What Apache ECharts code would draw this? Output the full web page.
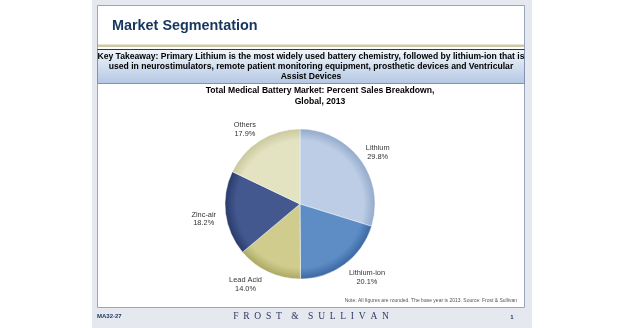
<!DOCTYPE html>
<html>
<head>
<meta charset="utf-8">
<script src="https://cdn.jsdelivr.net/npm/echarts@6/dist/echarts.min.js"></script>
<style>
html,body{margin:0;padding:0;background:#ffffff;}
#chart{width:620px;height:328px;}
</style>
</head>
<body>
<div id="chart"></div>
<script>
// ---- data ----
const categories = ['Lithium', 'Lithium-ion', 'Lead Acid', 'Zinc-air', 'Others'];
const shares = [29.8, 20.1, 14.0, 18.2, 17.9];
const slideTitle = 'Market Segmentation';
const takeawayLines = [
  'Key Takeaway: Primary Lithium is the most widely used battery chemistry, followed by lithium-ion that is',
  'used in neurostimulators, remote patient monitoring equipment, prosthetic devices and Ventricular',
  'Assist Devices'
];
const chartTitleLines = ['Total Medical Battery Market: Percent Sales Breakdown,', 'Global, 2013'];
const noteText = 'Note: All figures are rounded. The base year is 2013. Source: Frost & Sullivan';
const slideCode = 'MA32-27';
const pageNumber = '1';
const brandText = 'F  R  O  S  T    &    S  U  L  L  I  V  A  N';

// ---- styles ----
const SANS = "'Liberation Sans', Arial, sans-serif";
const SERIF = "'Liberation Serif', 'Times New Roman', serif";
const CX = 300, CY = 204, R = 75;
const sliceColors = [
  ['#bccde5', '#93aacb'],
  ['#5e8dc6', '#3b67a3'],
  ['#d0cc8e', '#aca861'],
  ['#42588f', '#2a3b6b'],
  ['#e3e2c1', '#cac89c']
];
// small label nudges (px) relative to the library's outside label placement
const labelNudge = [[2, 4], [11, -2], [-15, -5], [-3, 3], [-5, 5]];
function radial(c) {
  return {
    type: 'radial', x: CX, y: CY, r: R, global: true,
    colorStops: [{offset: 0, color: c[0]}, {offset: 0.85, color: c[0]}, {offset: 1, color: c[1]}]
  };
}

const chart = echarts.init(document.getElementById('chart'), null, {renderer: 'canvas'});

const graphics = [
  {type: 'rect', shape: {x: 92, y: 0, width: 440, height: 328}, style: {fill: '#e5e8ef'}, z: -10, silent: true},
  {type: 'rect', shape: {x: 97.5, y: 5.5, width: 427, height: 302}, style: {fill: '#ffffff', stroke: '#98a5bd', lineWidth: 1}, z: -9, silent: true},
  {type: 'rect', shape: {x: 98, y: 44.5, width: 426, height: 2.5}, style: {fill: '#cdc9a7'}, z: -8, silent: true},
  {type: 'rect', shape: {x: 97.5, y: 49.5, width: 427, height: 34},
    style: {fill: {type: 'linear', x: 0, y: 0, x2: 0, y2: 1, colorStops: [{offset: 0, color: '#f2f6fb'}, {offset: 1, color: '#b3c7e3'}]},
      stroke: '#8193b3', lineWidth: 1}, z: -7, silent: true},
  {type: 'line', shape: {x1: 97.5, y1: 49.5, x2: 524.5, y2: 49.5}, style: {stroke: '#203a66', lineWidth: 1.2}, z: -6, silent: true},
  {type: 'text', x: 112, y: 26.5, style: {text: slideTitle, font: 'bold 14.4px ' + SANS, fill: '#17365d', textVerticalAlign: 'middle'}},
  {type: 'text', x: 517, y: 301, style: {text: noteText, font: '5px ' + SANS, fill: '#555555', textAlign: 'right', textVerticalAlign: 'middle'}},
  {type: 'text', x: 97, y: 316, style: {text: slideCode, font: 'bold 6px ' + SANS, fill: '#1f3a66', textVerticalAlign: 'middle'}},
  {type: 'text', x: 311, y: 316, style: {text: brandText, font: '9.5px ' + SERIF, fill: '#2e3a5e', textAlign: 'center', textVerticalAlign: 'middle'}},
  {type: 'text', x: 512, y: 317, style: {text: pageNumber, font: 'bold 6px ' + SANS, fill: '#1f3a66', textAlign: 'center', textVerticalAlign: 'middle'}}
];
takeawayLines.forEach(function (t, i) {
  graphics.push({type: 'text', x: 311, y: 56.5 + i * 10.3,
    style: {text: t, font: 'bold 8.6px ' + SANS, fill: '#000000', textAlign: 'center', textVerticalAlign: 'middle'}});
});
chartTitleLines.forEach(function (t, i) {
  graphics.push({type: 'text', x: 320, y: 91 + i * 10.5,
    style: {text: t, font: 'bold 8.6px ' + SANS, fill: '#000000', textAlign: 'center', textVerticalAlign: 'middle'}});
});

const option = {
  animation: false,
  backgroundColor: '#ffffff',
  graphic: graphics,
  series: [{
    type: 'pie',
    center: [CX, CY],
    radius: [0, R],
    startAngle: 90,
    clockwise: true,
    avoidLabelOverlap: false,
    data: categories.map(function (name, i) {
      return {name: name, value: shares[i], itemStyle: {color: radial(sliceColors[i])}};
    }),
    itemStyle: {borderColor: 'rgba(255,255,255,0.55)', borderWidth: 0.8},
    label: {
      show: true,
      position: 'outside',
      formatter: function (p) { return p.name + '\n' + p.value.toFixed(1) + '%'; },
      fontFamily: SANS,
      fontSize: 7.4,
      lineHeight: 8.6,
      color: '#333333',
      distanceToLabelLine: 0
    },
    labelLine: {show: false, length: 19, length2: 0},
    labelLayout: function (p) {
      const n = labelNudge[p.dataIndex] || [0, 0];
      return {align: 'center', verticalAlign: 'middle', dx: n[0], dy: n[1]};
    },
    emphasis: {disabled: true}
  }]
};
chart.setOption(option);
</script>
</body>
</html>
